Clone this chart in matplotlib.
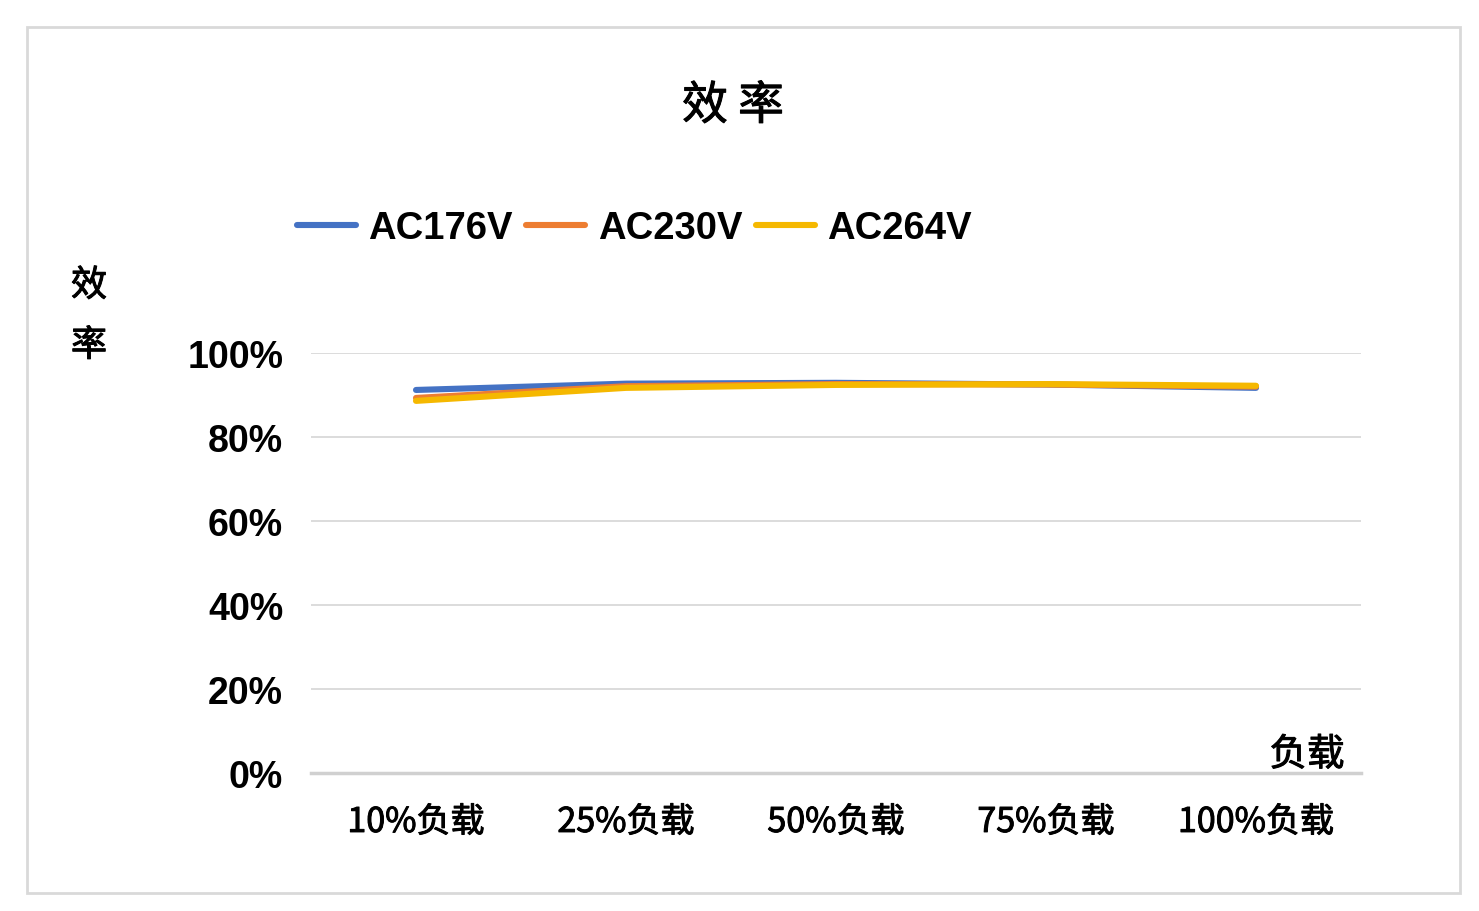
import matplotlib
matplotlib.use("Agg")
import matplotlib.pyplot as plt
import matplotlib.patheffects as pe
from matplotlib.patches import Rectangle
from matplotlib.ticker import PercentFormatter

# 数据
categories = ["10%负载", "25%负载", "50%负载", "75%负载", "100%负载"]
ac176 = [91.2, 92.7, 92.9, 92.5, 91.7]
ac230 = [89.3, 92.1, 92.6, 92.5, 92.0]
ac264 = [88.6, 91.7, 92.4, 92.6, 92.2]
series_names = ["AC176V", "AC230V", "AC264V"]
colors = ["#4472C4", "#ED7D31", "#F5B800"]
y_ticks = [0, 20, 40, 60, 80, 100]

cjk = ["Noto Sans CJK SC", "DejaVu Sans"]
latin = ["Liberation Sans", "DejaVu Sans"]
# 模拟中等粗细
semi = [pe.withStroke(linewidth=0.7, foreground="black")]

W, H = 1479, 912
fig = plt.figure(figsize=(W / 100, H / 100), dpi=100)
fig.patch.set_facecolor("white")

# 外框
fig.patches.append(Rectangle((27 / W, 1 - 894 / H), 1433 / W, 866 / H,
                             transform=fig.transFigure, fill=False,
                             edgecolor="#d9d9d9", linewidth=2))

ax = fig.add_axes([311 / W, 1 - 774 / H, 1050 / W, 420 / H])
x = list(range(len(categories)))
for vals, name, c in zip([ac176, ac230, ac264], series_names, colors):
    ax.plot(x, vals, color=c, linewidth=4.4, solid_capstyle="round",
            solid_joinstyle="round", label=name)

ax.set_xlim(-0.5, len(categories) - 0.5)
ax.set_ylim(0, 100)
ax.set_yticks(y_ticks)
ax.yaxis.set_major_formatter(PercentFormatter(decimals=0))
ax.grid(axis="y", color="#d9d9d9", linewidth=1.3)
ax.set_axisbelow(True)
for s in ["top", "right", "left"]:
    ax.spines[s].set_visible(False)
ax.spines["bottom"].set_color("#d0d0d0")
ax.spines["bottom"].set_linewidth(2.5)
ax.tick_params(axis="both", length=0)
ax.tick_params(axis="y", pad=20)
ax.tick_params(axis="x", pad=23)
ax.set_xticks(x)
ax.set_xticklabels(categories, family=cjk, fontsize=24.5, path_effects=semi)
for lab in ax.get_yticklabels():
    lab.set_family(latin)
    lab.set_fontsize(27)
    lab.set_fontweight("bold")

# 标题和轴标题
fig.text(733 / W, 1 - 107 / H, "效 率", ha="center", va="center",
         family=cjk, fontsize=33, path_effects=semi)
fig.text(89 / W, 1 - 287 / H, "效", ha="center", va="center",
         family=cjk, fontsize=26, path_effects=semi)
fig.text(89 / W, 1 - 347 / H, "率", ha="center", va="center",
         family=cjk, fontsize=26, path_effects=semi)
fig.text(1307 / W, 1 - 756 / H, "负载", ha="center", va="center",
         family=cjk, fontsize=27, path_effects=semi)

leg = fig.legend(loc="center left", bbox_to_anchor=(297 / W, 1 - 229 / H),
                 ncol=3, frameon=False, borderpad=0, borderaxespad=0,
                 handlelength=1.55, handletextpad=0.32, columnspacing=0.35,
                 prop={"family": latin, "size": 27.5, "weight": "bold"})
for line in leg.get_lines():
    line.set_linewidth(4.4)
    line.set_solid_capstyle("round")

fig.savefig("out.png", dpi=100)
